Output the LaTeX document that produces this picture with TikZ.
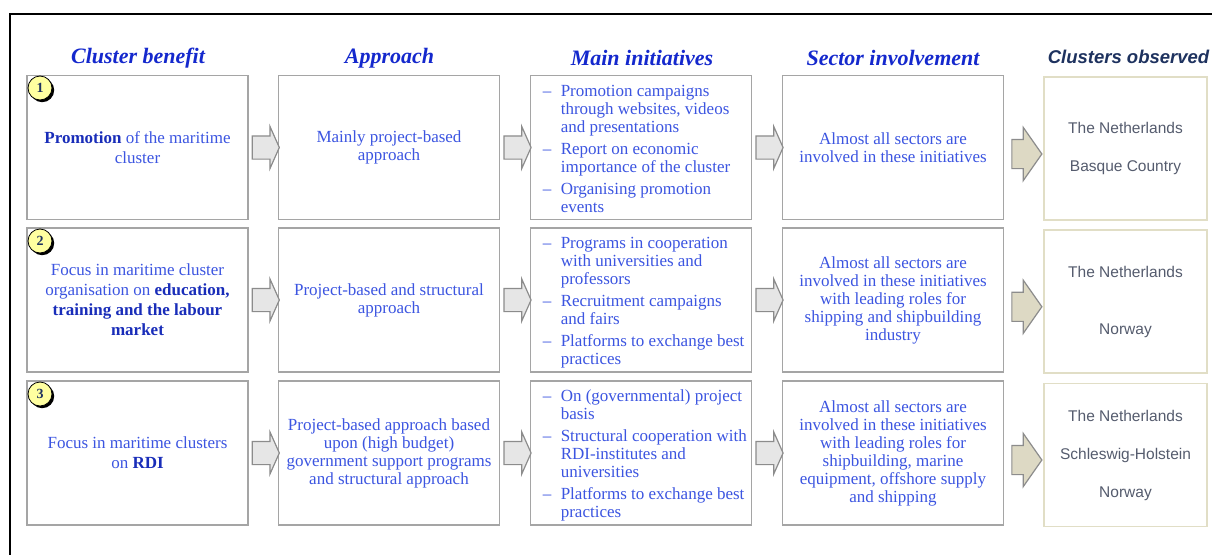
\documentclass[tikz,border=0pt]{standalone}
\usepackage{fontspec}
\setmainfont{Liberation Serif}
\newfontfamily\arialf{Liberation Sans}
\usetikzlibrary{shapes.arrows,shadows,calc}
\definecolor{hdrblue}{RGB}{20,40,205}
\definecolor{txtblue}{RGB}{60,85,225}
\definecolor{boldblue}{RGB}{25,45,185}
\definecolor{navy}{RGB}{30,50,95}
\definecolor{cgrey}{RGB}{85,92,110}
\definecolor{boxgrey}{RGB}{165,165,165}
\definecolor{beigeline}{RGB}{225,222,198}
\definecolor{beigefill}{RGB}{221,217,196}
\definecolor{arrgrey}{RGB}{140,140,140}
\definecolor{arrfill}{RGB}{230,230,230}
\definecolor{numyellow}{RGB}{255,255,160}
\newcommand\bb[1]{{\bfseries\color{boldblue}#1}}
\begin{document}
\begin{tikzpicture}[x=1pt,y=-1pt,
  box/.style={draw=boxgrey, line width=1.8pt, minimum width=221pt, minimum height=144pt,
    inner sep=0pt, text=txtblue, font=\fontsize{17}{18}\selectfont, align=center},
  boxone/.style={box, font=\fontsize{17}{20}\selectfont},
  obsbox/.style={draw=beigeline, line width=1.8pt, minimum width=163pt, minimum height=143pt,
    inner sep=0pt, text=cgrey, align=center},
  listtext/.style={inner sep=0pt, text=txtblue, font=\fontsize{17}{18}\selectfont, anchor=west},
  hdr/.style={text=hdrblue, font=\fontsize{22}{24}\selectfont\bfseries\itshape, inner sep=0pt},
  hdrsans/.style={text=navy, font=\arialf\fontsize{18.5}{20}\selectfont\bfseries\itshape, inner sep=0pt},
  smallarr/.style={single arrow, draw=arrgrey, fill=arrfill, line width=1.2pt,
    inner xsep=0pt, inner ysep=11pt, minimum height=27pt, minimum width=41pt,
    single arrow head extend=9.5pt, single arrow tip angle=132},
  bigarr/.style={single arrow, draw=arrgrey, fill=beigefill, line width=1.2pt,
    inner xsep=0pt, inner ysep=14pt, minimum height=30pt, minimum width=52pt,
    single arrow head extend=12pt, single arrow tip angle=110},
  numc/.style={circle, draw=black, line width=0.8pt, fill=numyellow, minimum size=24pt, inner sep=0pt,
    font=\fontsize{14}{14}\selectfont\bfseries, text=navy,
    drop shadow={shadow xshift=2.2pt, shadow yshift=-2.2pt, opacity=1, fill=black}}
]
\useasboundingbox (0,0) rectangle (1212,555);
\fill[white] (0,0) rectangle (1212,555);
% outer frame
\coordinate (fr1) at (1212,14);
\coordinate (fr2) at (10,14);
\coordinate (fr3) at (10,555);
\draw[line width=2.5pt, black] (fr1) -- (fr2) -- (fr3);

% headers
\node[hdr] (h1) at (138,58) {Cluster benefit};
\node[hdr] (h2) at (389.5,58) {Approach};
\node[hdr] (h3) at (642,58) {Main initiatives};
\node[hdr] (h4) at (893,58) {Sector involvement};
\node[hdrsans] (h5) at (1128.5,57) {Clusters observed};

% row 1
\node[boxone] (b11) at (137.5,147.5) {\bb{Promotion} of the maritime\\cluster};
\node[box] (b12) at (389,147.5) {Mainly project-based\\approach};
\node[box] (b13) at (641,147.5) {};
\node[box] (b14) at (893,147.5) {Almost all sectors are\\involved in these initiatives};
\node[obsbox, font=\arialf\fontsize{15.5}{38}\selectfont] (b15) at (1125.5,148.5) {The Netherlands\\Basque Country};

% row 2
\node[boxone] (b21) at (137.5,300) {Focus in maritime cluster\\organisation on \bb{education,}\\\bb{training and the labour}\\\bb{market}};
\node[box] (b22) at (389,300) {Project-based and structural\\approach};
\node[box] (b23) at (641,300) {};
\node[box] (b24) at (893,300) {Almost all sectors are\\involved in these initiatives\\with leading roles for\\shipping and shipbuilding\\industry};
\node[obsbox, font=\arialf\fontsize{15.5}{57}\selectfont] (b25) at (1125.5,301.5) {The Netherlands\\Norway};

% row 3
\node[boxone] (b31) at (137.5,453) {Focus in maritime clusters\\on \bb{RDI}};
\node[box] (b32) at (389,453) {Project-based approach based\\upon (high budget)\\government support programs\\and structural approach};
\node[box] (b33) at (641,453) {};
\node[box] (b34) at (893,453) {Almost all sectors are\\involved in these initiatives\\with leading roles for\\shipbuilding, marine\\equipment, offshore supply\\and shipping};
\node[obsbox, font=\arialf\fontsize{15.5}{38}\selectfont] (b35) at (1125.5,455) {The Netherlands\\Schleswig-Holstein\\Norway};

% list texts
\node[listtext] (t13) at ($(b13.west)+(7,3.5)$) {\begin{tabular}{@{}p{24pt}@{}l@{}}
\hspace{6pt}– & Promotion campaigns\\
 & through websites, videos\\
 & and presentations\\[4pt]
\hspace{6pt}– & Report on economic\\
 & importance of the cluster\\[4pt]
\hspace{6pt}– & Organising promotion\\
 & events
\end{tabular}};
\node[listtext] (t23) at ($(b23.west)+(7,2.5)$) {\begin{tabular}{@{}p{24pt}@{}l@{}}
\hspace{6pt}– & Programs in cooperation\\
 & with universities and\\
 & professors\\[4pt]
\hspace{6pt}– & Recruitment campaigns\\
 & and fairs\\[4pt]
\hspace{6pt}– & Platforms to exchange best\\
 & practices
\end{tabular}};
\node[listtext] (t33) at ($(b33.west)+(7,3)$) {\begin{tabular}{@{}p{24pt}@{}l@{}}
\hspace{6pt}– & On (governmental) project\\
 & basis\\[4pt]
\hspace{6pt}– & Structural cooperation with\\
 & RDI-institutes and\\
 & universities\\[4pt]
\hspace{6pt}– & Platforms to exchange best\\
 & practices
\end{tabular}};

% number circles
\node[numc] (n1) at (40,88) {1};
\node[numc] (n2) at (40,241) {2};
\node[numc] (n3) at (40,394) {3};

% arrows
\foreach \r in {1,2,3}{
  \node[smallarr] (a\r12) at ($(b\r1.east)!0.5!(b\r2.west)$) {};
  \node[smallarr] (a\r23) at ($(b\r2.east)!0.5!(b\r3.west)$) {};
  \node[smallarr] (a\r34) at ($(b\r3.east)!0.5!(b\r4.west)$) {};
  \node[bigarr, yshift=-6pt, xshift=-2pt] (a\r45) at ($(b\r4.east)!0.5!(b\r5.west)$) {};
}
\end{tikzpicture}
\end{document}
